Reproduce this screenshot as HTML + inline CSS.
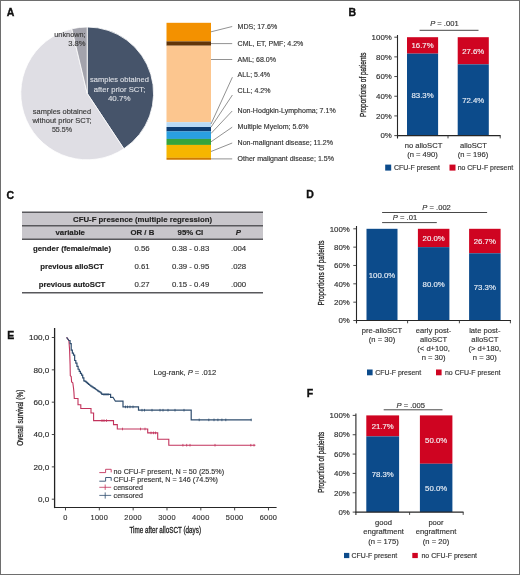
<!DOCTYPE html>
<html><head><meta charset="utf-8"><style>
html,body{margin:0;padding:0;background:#fff;overflow:hidden;}
svg{display:block;font-family:"Liberation Sans", sans-serif;will-change:transform;}
</style></head><body>
<svg width="520" height="575" viewBox="0 0 520 575">
<rect x="0.5" y="0.5" width="519" height="574" fill="#fff" stroke="#6e6e6e" stroke-width="1"/>
<text x="6.8" y="15.8" font-size="10.5" font-weight="bold" fill="#111" stroke="#111" stroke-width="0.35">A</text>
<text x="348.5" y="16.4" font-size="10.5" font-weight="bold" fill="#111" stroke="#111" stroke-width="0.35">B</text>
<text x="6.6" y="198.5" font-size="10.5" font-weight="bold" fill="#111" stroke="#111" stroke-width="0.35">C</text>
<text x="306.2" y="198.1" font-size="10.5" font-weight="bold" fill="#111" stroke="#111" stroke-width="0.35">D</text>
<text x="7.2" y="338.5" font-size="10.5" font-weight="bold" fill="#111" stroke="#111" stroke-width="0.35">E</text>
<text x="306.8" y="396.8" font-size="10.5" font-weight="bold" fill="#111" stroke="#111" stroke-width="0.35">F</text>
<path d="M87.2,93.4 L87.20,27.00 A66.4,66.4 0 0 1 123.85,148.77 Z" fill="#46546a" stroke="#fff" stroke-width="0.8" stroke-linejoin="round"/>
<path d="M87.2,93.4 L123.85,148.77 A66.4,66.4 0 1 1 71.81,28.81 Z" fill="#dfdee4" stroke="#fff" stroke-width="0.8" stroke-linejoin="round"/>
<path d="M87.2,93.4 L71.81,28.81 A66.4,66.4 0 0 1 87.20,27.00 Z" fill="#a3a3ac" stroke="#fff" stroke-width="0.8" stroke-linejoin="round"/>
<text x="85.6" y="36.8" font-size="7.4" text-anchor="end" textLength="31.3" lengthAdjust="spacingAndGlyphs" fill="#3a3a3a" stroke="#3a3a3a" stroke-width="0.15">unknown;</text>
<text x="85.6" y="45.8" font-size="7.4" text-anchor="end" textLength="17.3" lengthAdjust="spacingAndGlyphs" fill="#3a3a3a" stroke="#3a3a3a" stroke-width="0.15">3.8%</text>
<text x="119.5" y="82.1" font-size="7.4" text-anchor="middle" textLength="58.8" lengthAdjust="spacingAndGlyphs" fill="#dadde3" stroke="#dadde3" stroke-width="0.15">samples obtained</text>
<text x="119.5" y="91.5" font-size="7.4" text-anchor="middle" textLength="51.6" lengthAdjust="spacingAndGlyphs" fill="#dadde3" stroke="#dadde3" stroke-width="0.15">after prior SCT;</text>
<text x="119.2" y="100.7" font-size="7.4" text-anchor="middle" textLength="22.6" lengthAdjust="spacingAndGlyphs" fill="#dadde3" stroke="#dadde3" stroke-width="0.15">40.7%</text>
<text x="62" y="113.9" font-size="7.4" text-anchor="middle" textLength="58.3" lengthAdjust="spacingAndGlyphs" fill="#3a3a3a" stroke="#3a3a3a" stroke-width="0.15">samples obtained</text>
<text x="62" y="123.2" font-size="7.4" text-anchor="middle" textLength="59.1" lengthAdjust="spacingAndGlyphs" fill="#3a3a3a" stroke="#3a3a3a" stroke-width="0.15">without prior SCT;</text>
<text x="62" y="132.3" font-size="7.4" text-anchor="middle" textLength="20.2" lengthAdjust="spacingAndGlyphs" fill="#3a3a3a" stroke="#3a3a3a" stroke-width="0.15">55.5%</text>
<rect x="166.5" y="22.8" width="44.5" height="18.65" fill="#f39100"/>
<rect x="166.5" y="41.4" width="44.5" height="4.350000000000004" fill="#613408"/>
<rect x="166.5" y="45.7" width="44.5" height="76.55" fill="#fcc68f"/>
<rect x="166.5" y="122.2" width="44.5" height="4.849999999999997" fill="#b8daf6"/>
<rect x="166.5" y="127.0" width="44.5" height="4.4500000000000055" fill="#0d3c72"/>
<rect x="166.5" y="131.4" width="44.5" height="7.55" fill="#2a9fe0"/>
<rect x="166.5" y="138.9" width="44.5" height="6.05" fill="#36a43c"/>
<rect x="166.5" y="144.9" width="44.5" height="12.950000000000006" fill="#f6b600"/>
<rect x="166.5" y="157.8" width="44.5" height="1.9499999999999773" fill="#cf7a00"/>
<line x1="211" y1="31.8" x2="232.2" y2="26.5" stroke="#6e6e6e" stroke-width="0.75"/>
<line x1="211" y1="43.6" x2="232.2" y2="43.6" stroke="#6e6e6e" stroke-width="0.75"/>
<line x1="211" y1="59.5" x2="232.2" y2="59.5" stroke="#6e6e6e" stroke-width="0.75"/>
<line x1="211" y1="124.0" x2="232.4" y2="77.2" stroke="#6e6e6e" stroke-width="0.75"/>
<line x1="211" y1="127.2" x2="232.4" y2="95.0" stroke="#6e6e6e" stroke-width="0.75"/>
<line x1="211" y1="133.5" x2="232.2" y2="111.0" stroke="#6e6e6e" stroke-width="0.75"/>
<line x1="211" y1="141.8" x2="232.2" y2="127.2" stroke="#6e6e6e" stroke-width="0.75"/>
<line x1="211" y1="151.5" x2="232.2" y2="143.0" stroke="#6e6e6e" stroke-width="0.75"/>
<line x1="211" y1="158.9" x2="232.2" y2="158.9" stroke="#6e6e6e" stroke-width="0.75"/>
<text x="237.6" y="29.0" font-size="7.05" fill="#333" stroke="#333" stroke-width="0.15">MDS; 17.6%</text>
<text x="237.6" y="45.9" font-size="7.05" fill="#333" stroke="#333" stroke-width="0.15">CML, ET, PMF; 4.2%</text>
<text x="237.6" y="62.0" font-size="7.05" fill="#333" stroke="#333" stroke-width="0.15">AML; 68.0%</text>
<text x="237.6" y="77.2" font-size="7.05" fill="#333" stroke="#333" stroke-width="0.15">ALL; 5.4%</text>
<text x="237.6" y="93.3" font-size="7.05" fill="#333" stroke="#333" stroke-width="0.15">CLL; 4.2%</text>
<text x="237.6" y="113.2" font-size="7.05" fill="#333" stroke="#333" stroke-width="0.15">Non-Hodgkin-Lymphoma; 7.1%</text>
<text x="237.6" y="128.8" font-size="7.05" fill="#333" stroke="#333" stroke-width="0.15">Multiple Myelom; 5.6%</text>
<text x="237.6" y="145.3" font-size="7.05" fill="#333" stroke="#333" stroke-width="0.15">Non-malignant disease; 11.2%</text>
<text x="237.6" y="161.0" font-size="7.05" fill="#333" stroke="#333" stroke-width="0.15">Other malignant disease; 1.5%</text>
<rect x="407.0" y="37.19999999999999" width="31.100000000000023" height="16.432800000000015" fill="#cf0421"/>
<rect x="407.0" y="53.6328" width="31.100000000000023" height="81.96719999999999" fill="#0c4b8b"/>
<text x="422.55" y="48.42" font-size="7.8" text-anchor="middle" fill="#f4f0f2" stroke="#f4f0f2" stroke-width="0.15">16.7%</text>
<text x="422.55" y="97.72" font-size="7.8" text-anchor="middle" fill="#e8eef6" stroke="#e8eef6" stroke-width="0.15">83.3%</text>
<rect x="457.7" y="37.19999999999999" width="31.100000000000023" height="27.1584" fill="#cf0421"/>
<rect x="457.7" y="64.35839999999999" width="31.100000000000023" height="71.2416" fill="#0c4b8b"/>
<text x="473.25" y="53.78" font-size="7.8" text-anchor="middle" fill="#f4f0f2" stroke="#f4f0f2" stroke-width="0.15">27.6%</text>
<text x="473.25" y="103.08" font-size="7.8" text-anchor="middle" fill="#e8eef6" stroke="#e8eef6" stroke-width="0.15">72.4%</text>
<line x1="397.5" y1="35.0" x2="397.5" y2="138.5" stroke="#262626" stroke-width="1.1"/>
<line x1="397.0" y1="135.6" x2="500.6" y2="135.6" stroke="#262626" stroke-width="1.1"/>
<line x1="394.3" y1="135.6" x2="397.5" y2="135.6" stroke="#333" stroke-width="0.9"/>
<text x="391.8" y="138.35" font-size="7.9" text-anchor="end" fill="#2e2e2e" stroke="#2e2e2e" stroke-width="0.15">0%</text>
<line x1="394.3" y1="115.92" x2="397.5" y2="115.92" stroke="#333" stroke-width="0.9"/>
<text x="391.8" y="118.67" font-size="7.9" text-anchor="end" fill="#2e2e2e" stroke="#2e2e2e" stroke-width="0.15">20%</text>
<line x1="394.3" y1="96.24000000000001" x2="397.5" y2="96.24000000000001" stroke="#333" stroke-width="0.9"/>
<text x="391.8" y="98.99" font-size="7.9" text-anchor="end" fill="#2e2e2e" stroke="#2e2e2e" stroke-width="0.15">40%</text>
<line x1="394.3" y1="76.56" x2="397.5" y2="76.56" stroke="#333" stroke-width="0.9"/>
<text x="391.8" y="79.31" font-size="7.9" text-anchor="end" fill="#2e2e2e" stroke="#2e2e2e" stroke-width="0.15">60%</text>
<line x1="394.3" y1="56.88000000000001" x2="397.5" y2="56.88000000000001" stroke="#333" stroke-width="0.9"/>
<text x="391.8" y="59.63" font-size="7.9" text-anchor="end" fill="#2e2e2e" stroke="#2e2e2e" stroke-width="0.15">80%</text>
<line x1="394.3" y1="37.19999999999999" x2="397.5" y2="37.19999999999999" stroke="#333" stroke-width="0.9"/>
<text x="391.8" y="39.95" font-size="7.9" text-anchor="end" fill="#2e2e2e" stroke="#2e2e2e" stroke-width="0.15">100%</text>
<line x1="448.0" y1="135.6" x2="448.0" y2="138.4" stroke="#333" stroke-width="0.9"/>
<line x1="500.2" y1="135.6" x2="500.2" y2="138.4" stroke="#333" stroke-width="0.9"/>
<line x1="419.6" y1="30.3" x2="478.5" y2="30.3" stroke="#333" stroke-width="0.9"/>
<text x="444.4" y="26.2" font-size="7.6" text-anchor="middle" fill="#333" stroke="#333" stroke-width="0.15"><tspan font-style="italic">P</tspan> = .001</text>
<text x="0" y="0" font-size="8.6" text-anchor="middle" fill="#262626" stroke="#262626" stroke-width="0.3" textLength="64.4" lengthAdjust="spacingAndGlyphs" transform="translate(366.2,84.7) rotate(-90)">Proportions of patients</text>
<text x="423.5" y="148.3" font-size="7.6" text-anchor="middle" fill="#333" stroke="#333" stroke-width="0.15">no alloSCT</text>
<text x="422.5" y="157.4" font-size="7.6" text-anchor="middle" fill="#333" stroke="#333" stroke-width="0.15">(n = 490)</text>
<text x="473.5" y="148.3" font-size="7.6" text-anchor="middle" fill="#333" stroke="#333" stroke-width="0.15">alloSCT</text>
<text x="473.0" y="157.4" font-size="7.6" text-anchor="middle" fill="#333" stroke="#333" stroke-width="0.15">(n = 196)</text>
<rect x="385.2" y="164.6" width="6.0" height="6.0" fill="#0c4b8b"/>
<text x="394.0" y="170.3" font-size="6.95" fill="#333" stroke="#333" stroke-width="0.15">CFU-F present</text>
<rect x="449.5" y="164.6" width="6.0" height="6.0" fill="#cf0421"/>
<text x="457.7" y="170.3" font-size="6.95" fill="#333" stroke="#333" stroke-width="0.15">no CFU-F present</text>
<rect x="22.0" y="212.3" width="241.0" height="27.0" fill="#c8c6cb"/>
<line x1="22.0" y1="212.3" x2="263.0" y2="212.3" stroke="#58585c" stroke-width="1.4"/>
<line x1="22.0" y1="225.8" x2="263.0" y2="225.8" stroke="#58585c" stroke-width="1.4"/>
<line x1="22.0" y1="239.2" x2="263.0" y2="239.2" stroke="#58585c" stroke-width="1.4"/>
<line x1="22.0" y1="292.7" x2="263.0" y2="292.7" stroke="#58585c" stroke-width="1.4"/>
<text x="142.6" y="221.8" font-size="7.8" text-anchor="middle" font-weight="bold" fill="#222" stroke="#222" stroke-width="0.15">CFU-F presence (multiple regression)</text>
<text x="70.2" y="235.4" font-size="7.8" text-anchor="middle" font-weight="bold" fill="#222" stroke="#222" stroke-width="0.15">variable</text>
<text x="142.4" y="235.4" font-size="7.8" text-anchor="middle" font-weight="bold" fill="#222" stroke="#222" stroke-width="0.15">OR / B</text>
<text x="190.4" y="235.4" font-size="7.8" text-anchor="middle" font-weight="bold" fill="#222" stroke="#222" stroke-width="0.15">95% CI</text>
<text x="238.4" y="235.4" font-size="7.8" text-anchor="middle" font-weight="bold" font-style="italic" fill="#222" stroke="#222" stroke-width="0.15">P</text>
<text x="72.0" y="251.2" font-size="7.8" text-anchor="middle" font-weight="bold" fill="#222" stroke="#222" stroke-width="0.15">gender (female/male)</text>
<text x="142.0" y="251.2" font-size="7.8" text-anchor="middle" fill="#333" stroke="#333" stroke-width="0.15">0.56</text>
<text x="190.6" y="251.2" font-size="7.8" text-anchor="middle" fill="#333" stroke="#333" stroke-width="0.15">0.38 - 0.83</text>
<text x="238.6" y="251.2" font-size="7.8" text-anchor="middle" fill="#333" stroke="#333" stroke-width="0.15">.004</text>
<text x="72.0" y="268.9" font-size="7.8" text-anchor="middle" font-weight="bold" fill="#222" stroke="#222" stroke-width="0.15">previous alloSCT</text>
<text x="142.0" y="268.9" font-size="7.8" text-anchor="middle" fill="#333" stroke="#333" stroke-width="0.15">0.61</text>
<text x="190.6" y="268.9" font-size="7.8" text-anchor="middle" fill="#333" stroke="#333" stroke-width="0.15">0.39 - 0.95</text>
<text x="238.6" y="268.9" font-size="7.8" text-anchor="middle" fill="#333" stroke="#333" stroke-width="0.15">.028</text>
<text x="72.0" y="286.9" font-size="7.8" text-anchor="middle" font-weight="bold" fill="#222" stroke="#222" stroke-width="0.15">previous autoSCT</text>
<text x="142.0" y="286.9" font-size="7.8" text-anchor="middle" fill="#333" stroke="#333" stroke-width="0.15">0.27</text>
<text x="190.6" y="286.9" font-size="7.8" text-anchor="middle" fill="#333" stroke="#333" stroke-width="0.15">0.15 - 0.49</text>
<text x="238.6" y="286.9" font-size="7.8" text-anchor="middle" fill="#333" stroke="#333" stroke-width="0.15">.000</text>
<rect x="366.5" y="228.8" width="31.0" height="0.0" fill="#cf0421"/>
<rect x="366.5" y="228.8" width="31.0" height="91.69999999999999" fill="#0c4b8b"/>
<text x="382.0" y="277.75" font-size="7.8" text-anchor="middle" fill="#e8eef6" stroke="#e8eef6" stroke-width="0.15">100.0%</text>
<rect x="417.9" y="228.8" width="31.5" height="18.340000000000003" fill="#cf0421"/>
<rect x="417.9" y="247.14000000000001" width="31.5" height="73.35999999999999" fill="#0c4b8b"/>
<text x="433.65" y="240.97" font-size="7.8" text-anchor="middle" fill="#f4f0f2" stroke="#f4f0f2" stroke-width="0.15">20.0%</text>
<text x="433.65" y="286.92" font-size="7.8" text-anchor="middle" fill="#e8eef6" stroke="#e8eef6" stroke-width="0.15">80.0%</text>
<rect x="469.1" y="228.8" width="31.5" height="24.483900000000006" fill="#cf0421"/>
<rect x="469.1" y="253.28390000000002" width="31.5" height="67.21609999999998" fill="#0c4b8b"/>
<text x="484.85" y="244.04" font-size="7.8" text-anchor="middle" fill="#f4f0f2" stroke="#f4f0f2" stroke-width="0.15">26.7%</text>
<text x="484.85" y="289.99" font-size="7.8" text-anchor="middle" fill="#e8eef6" stroke="#e8eef6" stroke-width="0.15">73.3%</text>
<line x1="356.5" y1="226.0" x2="356.5" y2="323.4" stroke="#262626" stroke-width="1.1"/>
<line x1="356.0" y1="320.5" x2="511.0" y2="320.5" stroke="#262626" stroke-width="1.1"/>
<line x1="353.3" y1="320.5" x2="356.5" y2="320.5" stroke="#333" stroke-width="0.9"/>
<text x="349.9" y="323.25" font-size="7.9" text-anchor="end" fill="#2e2e2e" stroke="#2e2e2e" stroke-width="0.15">0%</text>
<line x1="353.3" y1="302.16" x2="356.5" y2="302.16" stroke="#333" stroke-width="0.9"/>
<text x="349.9" y="304.91" font-size="7.9" text-anchor="end" fill="#2e2e2e" stroke="#2e2e2e" stroke-width="0.15">20%</text>
<line x1="353.3" y1="283.82" x2="356.5" y2="283.82" stroke="#333" stroke-width="0.9"/>
<text x="349.9" y="286.57" font-size="7.9" text-anchor="end" fill="#2e2e2e" stroke="#2e2e2e" stroke-width="0.15">40%</text>
<line x1="353.3" y1="265.48" x2="356.5" y2="265.48" stroke="#333" stroke-width="0.9"/>
<text x="349.9" y="268.23" font-size="7.9" text-anchor="end" fill="#2e2e2e" stroke="#2e2e2e" stroke-width="0.15">60%</text>
<line x1="353.3" y1="247.14000000000001" x2="356.5" y2="247.14000000000001" stroke="#333" stroke-width="0.9"/>
<text x="349.9" y="249.89" font-size="7.9" text-anchor="end" fill="#2e2e2e" stroke="#2e2e2e" stroke-width="0.15">80%</text>
<line x1="353.3" y1="228.8" x2="356.5" y2="228.8" stroke="#333" stroke-width="0.9"/>
<text x="349.9" y="231.55" font-size="7.9" text-anchor="end" fill="#2e2e2e" stroke="#2e2e2e" stroke-width="0.15">100%</text>
<line x1="407.6" y1="320.5" x2="407.6" y2="323.3" stroke="#333" stroke-width="0.9"/>
<line x1="459.4" y1="320.5" x2="459.4" y2="323.3" stroke="#333" stroke-width="0.9"/>
<line x1="510.4" y1="320.5" x2="510.4" y2="323.3" stroke="#333" stroke-width="0.9"/>
<line x1="382.1" y1="212.5" x2="487.1" y2="212.5" stroke="#333" stroke-width="0.9"/>
<text x="436.6" y="209.8" font-size="7.6" text-anchor="middle" fill="#333" stroke="#333" stroke-width="0.15"><tspan font-style="italic">P</tspan> = .002</text>
<line x1="382.1" y1="222.6" x2="436.8" y2="222.6" stroke="#333" stroke-width="0.9"/>
<text x="405.0" y="220.0" font-size="7.6" text-anchor="middle" fill="#333" stroke="#333" stroke-width="0.15"><tspan font-style="italic">P</tspan> = .01</text>
<text x="0" y="0" font-size="8.6" text-anchor="middle" fill="#262626" stroke="#262626" stroke-width="0.3" textLength="65.0" lengthAdjust="spacingAndGlyphs" transform="translate(324.4,273.0) rotate(-90)">Proportions of patients</text>
<text x="382.0" y="333.3" font-size="7.6" text-anchor="middle" fill="#333" stroke="#333" stroke-width="0.15">pre-alloSCT</text>
<text x="382.0" y="342.2" font-size="7.6" text-anchor="middle" fill="#333" stroke="#333" stroke-width="0.15">(n = 30)</text>
<text x="433.6" y="333.3" font-size="7.6" text-anchor="middle" fill="#333" stroke="#333" stroke-width="0.15">early post-</text>
<text x="433.6" y="342.2" font-size="7.6" text-anchor="middle" fill="#333" stroke="#333" stroke-width="0.15">alloSCT</text>
<text x="433.6" y="351.1" font-size="7.6" text-anchor="middle" fill="#333" stroke="#333" stroke-width="0.15">(&lt; d+100,</text>
<text x="433.6" y="360.0" font-size="7.6" text-anchor="middle" fill="#333" stroke="#333" stroke-width="0.15">n = 30)</text>
<text x="484.8" y="333.3" font-size="7.6" text-anchor="middle" fill="#333" stroke="#333" stroke-width="0.15">late post-</text>
<text x="484.8" y="342.2" font-size="7.6" text-anchor="middle" fill="#333" stroke="#333" stroke-width="0.15">alloSCT</text>
<text x="484.8" y="351.1" font-size="7.6" text-anchor="middle" fill="#333" stroke="#333" stroke-width="0.15">(&gt; d+180,</text>
<text x="484.8" y="360.0" font-size="7.6" text-anchor="middle" fill="#333" stroke="#333" stroke-width="0.15">n = 30)</text>
<rect x="367.0" y="369.5" width="5.6" height="5.8" fill="#0c4b8b"/>
<text x="375.2" y="375.0" font-size="6.95" fill="#333" stroke="#333" stroke-width="0.15">CFU-F present</text>
<rect x="436.0" y="369.5" width="5.6" height="5.8" fill="#cf0421"/>
<text x="445.0" y="375.0" font-size="6.95" fill="#333" stroke="#333" stroke-width="0.15">no CFU-F present</text>
<rect x="366.3" y="415.4" width="32.80000000000001" height="20.983900000000006" fill="#cf0421"/>
<rect x="366.3" y="436.3839" width="32.80000000000001" height="75.71610000000004" fill="#0c4b8b"/>
<text x="382.7" y="428.89" font-size="7.8" text-anchor="middle" fill="#f4f0f2" stroke="#f4f0f2" stroke-width="0.15">21.7%</text>
<text x="382.7" y="477.34" font-size="7.8" text-anchor="middle" fill="#e8eef6" stroke="#e8eef6" stroke-width="0.15">78.3%</text>
<rect x="419.9" y="415.4" width="32.5" height="48.35000000000002" fill="#cf0421"/>
<rect x="419.9" y="463.75" width="32.5" height="48.35000000000002" fill="#0c4b8b"/>
<text x="436.15" y="442.57" font-size="7.8" text-anchor="middle" fill="#f4f0f2" stroke="#f4f0f2" stroke-width="0.15">50.0%</text>
<text x="436.15" y="491.03" font-size="7.8" text-anchor="middle" fill="#e8eef6" stroke="#e8eef6" stroke-width="0.15">50.0%</text>
<line x1="355.9" y1="413.5" x2="355.9" y2="515.0" stroke="#262626" stroke-width="1.1"/>
<line x1="355.4" y1="512.1" x2="463.5" y2="512.1" stroke="#262626" stroke-width="1.1"/>
<line x1="352.7" y1="512.1" x2="355.9" y2="512.1" stroke="#333" stroke-width="0.9"/>
<text x="349.8" y="514.85" font-size="7.9" text-anchor="end" fill="#2e2e2e" stroke="#2e2e2e" stroke-width="0.15">0%</text>
<line x1="352.7" y1="492.76" x2="355.9" y2="492.76" stroke="#333" stroke-width="0.9"/>
<text x="349.8" y="495.51" font-size="7.9" text-anchor="end" fill="#2e2e2e" stroke="#2e2e2e" stroke-width="0.15">20%</text>
<line x1="352.7" y1="473.42" x2="355.9" y2="473.42" stroke="#333" stroke-width="0.9"/>
<text x="349.8" y="476.17" font-size="7.9" text-anchor="end" fill="#2e2e2e" stroke="#2e2e2e" stroke-width="0.15">40%</text>
<line x1="352.7" y1="454.08" x2="355.9" y2="454.08" stroke="#333" stroke-width="0.9"/>
<text x="349.8" y="456.83" font-size="7.9" text-anchor="end" fill="#2e2e2e" stroke="#2e2e2e" stroke-width="0.15">60%</text>
<line x1="352.7" y1="434.74" x2="355.9" y2="434.74" stroke="#333" stroke-width="0.9"/>
<text x="349.8" y="437.49" font-size="7.9" text-anchor="end" fill="#2e2e2e" stroke="#2e2e2e" stroke-width="0.15">80%</text>
<line x1="352.7" y1="415.4" x2="355.9" y2="415.4" stroke="#333" stroke-width="0.9"/>
<text x="349.8" y="418.15" font-size="7.9" text-anchor="end" fill="#2e2e2e" stroke="#2e2e2e" stroke-width="0.15">100%</text>
<line x1="409.6" y1="512.1" x2="409.6" y2="514.9" stroke="#333" stroke-width="0.9"/>
<line x1="463.2" y1="512.1" x2="463.2" y2="514.9" stroke="#333" stroke-width="0.9"/>
<line x1="383.7" y1="409.8" x2="442.5" y2="409.8" stroke="#333" stroke-width="0.9"/>
<text x="410.8" y="407.7" font-size="7.6" text-anchor="middle" fill="#333" stroke="#333" stroke-width="0.15"><tspan font-style="italic">P</tspan> = .005</text>
<text x="0" y="0" font-size="8.6" text-anchor="middle" fill="#262626" stroke="#262626" stroke-width="0.3" textLength="61.0" lengthAdjust="spacingAndGlyphs" transform="translate(324.4,462.3) rotate(-90)">Proportion of patients</text>
<text x="383.5" y="524.9" font-size="7.6" text-anchor="middle" fill="#333" stroke="#333" stroke-width="0.15">good</text>
<text x="383.5" y="534.3" font-size="7.6" text-anchor="middle" fill="#333" stroke="#333" stroke-width="0.15">engraftment</text>
<text x="383.5" y="543.7" font-size="7.6" text-anchor="middle" fill="#333" stroke="#333" stroke-width="0.15">(n = 175)</text>
<text x="436.0" y="524.9" font-size="7.6" text-anchor="middle" fill="#333" stroke="#333" stroke-width="0.15">poor</text>
<text x="436.0" y="534.3" font-size="7.6" text-anchor="middle" fill="#333" stroke="#333" stroke-width="0.15">engraftment</text>
<text x="436.0" y="543.7" font-size="7.6" text-anchor="middle" fill="#333" stroke="#333" stroke-width="0.15">(n = 20)</text>
<rect x="344.0" y="552.9" width="5.3" height="5.2" fill="#0c4b8b"/>
<text x="351.4" y="558.2" font-size="6.95" fill="#333" stroke="#333" stroke-width="0.15">CFU-F present</text>
<rect x="412.3" y="552.9" width="5.5" height="5.2" fill="#cf0421"/>
<text x="421.5" y="558.2" font-size="6.95" fill="#333" stroke="#333" stroke-width="0.15">no CFU-F present</text>
<line x1="54.6" y1="328.0" x2="54.6" y2="508.1" stroke="#222" stroke-width="1.3"/>
<line x1="54.0" y1="507.5" x2="276.6" y2="507.5" stroke="#262626" stroke-width="1.1"/>
<line x1="51.8" y1="499.2" x2="54.8" y2="499.2" stroke="#333" stroke-width="0.9"/>
<text x="49.2" y="502.1" font-size="8.1" text-anchor="end" fill="#2a2a2a" stroke="#2a2a2a" stroke-width="0.15">0,0</text>
<line x1="51.8" y1="466.86" x2="54.8" y2="466.86" stroke="#333" stroke-width="0.9"/>
<text x="49.2" y="469.76" font-size="8.1" text-anchor="end" fill="#2a2a2a" stroke="#2a2a2a" stroke-width="0.15">20,0</text>
<line x1="51.8" y1="434.52" x2="54.8" y2="434.52" stroke="#333" stroke-width="0.9"/>
<text x="49.2" y="437.42" font-size="8.1" text-anchor="end" fill="#2a2a2a" stroke="#2a2a2a" stroke-width="0.15">40,0</text>
<line x1="51.8" y1="402.18" x2="54.8" y2="402.18" stroke="#333" stroke-width="0.9"/>
<text x="49.2" y="405.08" font-size="8.1" text-anchor="end" fill="#2a2a2a" stroke="#2a2a2a" stroke-width="0.15">60,0</text>
<line x1="51.8" y1="369.84" x2="54.8" y2="369.84" stroke="#333" stroke-width="0.9"/>
<text x="49.2" y="372.74" font-size="8.1" text-anchor="end" fill="#2a2a2a" stroke="#2a2a2a" stroke-width="0.15">80,0</text>
<line x1="51.8" y1="337.5" x2="54.8" y2="337.5" stroke="#333" stroke-width="0.9"/>
<text x="49.2" y="340.4" font-size="8.1" text-anchor="end" fill="#2a2a2a" stroke="#2a2a2a" stroke-width="0.15">100,0</text>
<line x1="65.5" y1="507.5" x2="65.5" y2="510.4" stroke="#333" stroke-width="0.9"/>
<text x="65.5" y="520.2" font-size="7.4" text-anchor="middle" fill="#333" stroke="#333" stroke-width="0.15" letter-spacing="0.3">0</text>
<line x1="99.33" y1="507.5" x2="99.33" y2="510.4" stroke="#333" stroke-width="0.9"/>
<text x="99.33" y="520.2" font-size="7.4" text-anchor="middle" fill="#333" stroke="#333" stroke-width="0.15" letter-spacing="0.3">1000</text>
<line x1="133.16" y1="507.5" x2="133.16" y2="510.4" stroke="#333" stroke-width="0.9"/>
<text x="133.16" y="520.2" font-size="7.4" text-anchor="middle" fill="#333" stroke="#333" stroke-width="0.15" letter-spacing="0.3">2000</text>
<line x1="166.99" y1="507.5" x2="166.99" y2="510.4" stroke="#333" stroke-width="0.9"/>
<text x="166.99" y="520.2" font-size="7.4" text-anchor="middle" fill="#333" stroke="#333" stroke-width="0.15" letter-spacing="0.3">3000</text>
<line x1="200.82" y1="507.5" x2="200.82" y2="510.4" stroke="#333" stroke-width="0.9"/>
<text x="200.82" y="520.2" font-size="7.4" text-anchor="middle" fill="#333" stroke="#333" stroke-width="0.15" letter-spacing="0.3">4000</text>
<line x1="234.64999999999998" y1="507.5" x2="234.64999999999998" y2="510.4" stroke="#333" stroke-width="0.9"/>
<text x="234.65" y="520.2" font-size="7.4" text-anchor="middle" fill="#333" stroke="#333" stroke-width="0.15" letter-spacing="0.3">5000</text>
<line x1="268.48" y1="507.5" x2="268.48" y2="510.4" stroke="#333" stroke-width="0.9"/>
<text x="268.48" y="520.2" font-size="7.4" text-anchor="middle" fill="#333" stroke="#333" stroke-width="0.15" letter-spacing="0.3">6000</text>
<text x="165.2" y="532.7" font-size="8.8" text-anchor="middle" textLength="71.6" lengthAdjust="spacingAndGlyphs" fill="#222" stroke="#222" stroke-width="0.3">Time after alloSCT (days)</text>
<text x="0" y="0" font-size="8.8" text-anchor="middle" fill="#262626" stroke="#262626" stroke-width="0.3" textLength="56.0" lengthAdjust="spacingAndGlyphs" transform="translate(23.4,417.7) rotate(-90)">Overall survival (%)</text>
<text x="153.5" y="374.7" font-size="7.5" fill="#333" stroke="#333" stroke-width="0.15" textLength="62.7" lengthAdjust="spacingAndGlyphs">Log-rank, <tspan font-style="italic">P</tspan> = .012</text>
<polyline points="66.60,337.40 68.90,340.50 69.60,350.00 70.10,365.00 70.30,375.80 71.20,376.50 71.60,381.90 72.80,382.70 73.50,388.00 73.90,391.90 74.30,398.50 78.00,398.50 78.00,404.80 80.80,404.80 80.80,408.50 91.00,408.50 91.00,413.00 93.60,413.00 93.60,420.60 113.50,420.60 113.50,424.60 117.30,424.60 117.30,429.00 147.70,429.00 147.70,432.90 157.70,432.90 157.70,439.20 168.80,439.20 168.80,445.20 255.40,445.20" fill="none" stroke="#c2335c" stroke-width="1.1" stroke-linejoin="miter"/>
<polyline points="66.60,337.40 68.90,340.50 70.05,340.50 70.05,343.72 71.20,343.72 71.20,350.10 72.35,350.10 72.35,353.13 73.50,353.13 73.50,355.19 74.65,355.19 74.65,360.51 75.80,360.51 75.80,363.16 76.95,363.16 76.95,366.31 78.10,366.31 78.10,369.24 79.25,369.24 79.25,371.28 80.40,371.28 80.40,373.32 81.55,373.32 81.55,375.16 82.70,375.16 82.70,377.96 83.85,377.96 83.85,380.78 85.00,380.78 85.00,381.44 86.15,381.44 86.15,382.41 87.30,382.41 87.30,383.42 88.45,383.42 88.45,384.39 89.60,384.39 89.60,385.27 90.75,385.27 90.75,386.16 91.90,386.16 91.90,386.95 93.05,386.95 93.05,387.69 94.20,387.69 94.20,388.44 95.35,388.44 95.35,389.23 96.50,389.23 96.50,390.02 97.65,390.02 97.65,390.82 98.80,390.82 98.80,391.57 99.95,391.57 99.95,392.27 101.10,392.27 101.10,393.37 101.90,393.37 101.90,394.40 110.60,394.40 110.60,397.30 113.00,397.30 115.40,401.20 123.00,401.20 123.00,406.90 138.50,406.90 138.50,410.20 191.20,410.20 191.20,419.90 251.50,419.90" fill="none" stroke="#2f4d6e" stroke-width="1.2" stroke-linejoin="miter"/>
<line x1="199.2" y1="418.59999999999997" x2="199.2" y2="421.2" stroke="#2f4d6e" stroke-width="0.8"/>
<line x1="208.8" y1="418.59999999999997" x2="208.8" y2="421.2" stroke="#2f4d6e" stroke-width="0.8"/>
<line x1="214" y1="418.59999999999997" x2="214" y2="421.2" stroke="#2f4d6e" stroke-width="0.8"/>
<line x1="217.9" y1="418.59999999999997" x2="217.9" y2="421.2" stroke="#2f4d6e" stroke-width="0.8"/>
<line x1="221.9" y1="418.59999999999997" x2="221.9" y2="421.2" stroke="#2f4d6e" stroke-width="0.8"/>
<line x1="225.8" y1="418.59999999999997" x2="225.8" y2="421.2" stroke="#2f4d6e" stroke-width="0.8"/>
<line x1="251.2" y1="418.59999999999997" x2="251.2" y2="421.2" stroke="#2f4d6e" stroke-width="0.8"/>
<line x1="142.0" y1="408.9" x2="142.0" y2="411.5" stroke="#2f4d6e" stroke-width="0.8"/>
<line x1="144.5" y1="408.9" x2="144.5" y2="411.5" stroke="#2f4d6e" stroke-width="0.8"/>
<line x1="152.0" y1="408.9" x2="152.0" y2="411.5" stroke="#2f4d6e" stroke-width="0.8"/>
<line x1="160.0" y1="408.9" x2="160.0" y2="411.5" stroke="#2f4d6e" stroke-width="0.8"/>
<line x1="163.0" y1="408.9" x2="163.0" y2="411.5" stroke="#2f4d6e" stroke-width="0.8"/>
<line x1="168.0" y1="408.9" x2="168.0" y2="411.5" stroke="#2f4d6e" stroke-width="0.8"/>
<line x1="175.0" y1="408.9" x2="175.0" y2="411.5" stroke="#2f4d6e" stroke-width="0.8"/>
<line x1="184.0" y1="408.9" x2="184.0" y2="411.5" stroke="#2f4d6e" stroke-width="0.8"/>
<line x1="125.5" y1="405.59999999999997" x2="125.5" y2="408.2" stroke="#2f4d6e" stroke-width="0.8"/>
<line x1="127.5" y1="405.59999999999997" x2="127.5" y2="408.2" stroke="#2f4d6e" stroke-width="0.8"/>
<line x1="130.0" y1="405.59999999999997" x2="130.0" y2="408.2" stroke="#2f4d6e" stroke-width="0.8"/>
<line x1="133.0" y1="405.59999999999997" x2="133.0" y2="408.2" stroke="#2f4d6e" stroke-width="0.8"/>
<line x1="104.0" y1="393.09999999999997" x2="104.0" y2="395.7" stroke="#2f4d6e" stroke-width="0.8"/>
<line x1="106.0" y1="393.09999999999997" x2="106.0" y2="395.7" stroke="#2f4d6e" stroke-width="0.8"/>
<line x1="108.0" y1="393.09999999999997" x2="108.0" y2="395.7" stroke="#2f4d6e" stroke-width="0.8"/>
<line x1="182.9" y1="443.9" x2="182.9" y2="446.5" stroke="#c2335c" stroke-width="0.8"/>
<line x1="186.7" y1="443.9" x2="186.7" y2="446.5" stroke="#c2335c" stroke-width="0.8"/>
<line x1="190.0" y1="443.9" x2="190.0" y2="446.5" stroke="#c2335c" stroke-width="0.8"/>
<line x1="215.0" y1="443.9" x2="215.0" y2="446.5" stroke="#c2335c" stroke-width="0.8"/>
<line x1="250.8" y1="443.9" x2="250.8" y2="446.5" stroke="#c2335c" stroke-width="0.8"/>
<line x1="254.0" y1="443.9" x2="254.0" y2="446.5" stroke="#c2335c" stroke-width="0.8"/>
<line x1="102.0" y1="419.3" x2="102.0" y2="421.90000000000003" stroke="#c2335c" stroke-width="0.8"/>
<line x1="104.0" y1="419.3" x2="104.0" y2="421.90000000000003" stroke="#c2335c" stroke-width="0.8"/>
<line x1="106.5" y1="419.3" x2="106.5" y2="421.90000000000003" stroke="#c2335c" stroke-width="0.8"/>
<line x1="122.5" y1="427.7" x2="122.5" y2="430.3" stroke="#c2335c" stroke-width="0.8"/>
<line x1="140.5" y1="427.7" x2="140.5" y2="430.3" stroke="#c2335c" stroke-width="0.8"/>
<line x1="145.0" y1="427.7" x2="145.0" y2="430.3" stroke="#c2335c" stroke-width="0.8"/>
<line x1="151.0" y1="431.59999999999997" x2="151.0" y2="434.2" stroke="#c2335c" stroke-width="0.8"/>
<line x1="153.5" y1="431.59999999999997" x2="153.5" y2="434.2" stroke="#c2335c" stroke-width="0.8"/>
<line x1="155.5" y1="431.59999999999997" x2="155.5" y2="434.2" stroke="#c2335c" stroke-width="0.8"/>
<polyline points="99.3,472.6 105.6,472.6 105.6,469.3 111.2,469.3 111.2,472.4" fill="none" stroke="#c2335c" stroke-width="0.9"/>
<polyline points="99.3,481.2 105.6,481.2 105.6,477.5 111.2,477.5 111.2,480.8" fill="none" stroke="#2f4d6e" stroke-width="0.9"/>
<line x1="99.3" y1="487.3" x2="111.2" y2="487.3" stroke="#c2335c" stroke-width="0.8"/>
<line x1="105.2" y1="484.5" x2="105.2" y2="489.9" stroke="#c2335c" stroke-width="0.8"/>
<line x1="99.3" y1="495.4" x2="111.2" y2="495.4" stroke="#2f4d6e" stroke-width="0.8"/>
<line x1="105.2" y1="492.4" x2="105.2" y2="498.6" stroke="#2f4d6e" stroke-width="0.8"/>
<text x="113.6" y="473.6" font-size="7.0" textLength="110.6" lengthAdjust="spacingAndGlyphs" fill="#333" stroke="#333" stroke-width="0.15">no CFU-F present, N = 50 (25.5%)</text>
<text x="113.6" y="481.6" font-size="7.0" textLength="104.4" lengthAdjust="spacingAndGlyphs" fill="#333" stroke="#333" stroke-width="0.15">CFU-F present, N = 146 (74.5%)</text>
<text x="113.6" y="489.5" font-size="7.0" textLength="29.3" lengthAdjust="spacingAndGlyphs" fill="#333" stroke="#333" stroke-width="0.15">censored</text>
<text x="113.6" y="497.6" font-size="7.0" textLength="29.3" lengthAdjust="spacingAndGlyphs" fill="#333" stroke="#333" stroke-width="0.15">censored</text>
</svg>
</body></html>
